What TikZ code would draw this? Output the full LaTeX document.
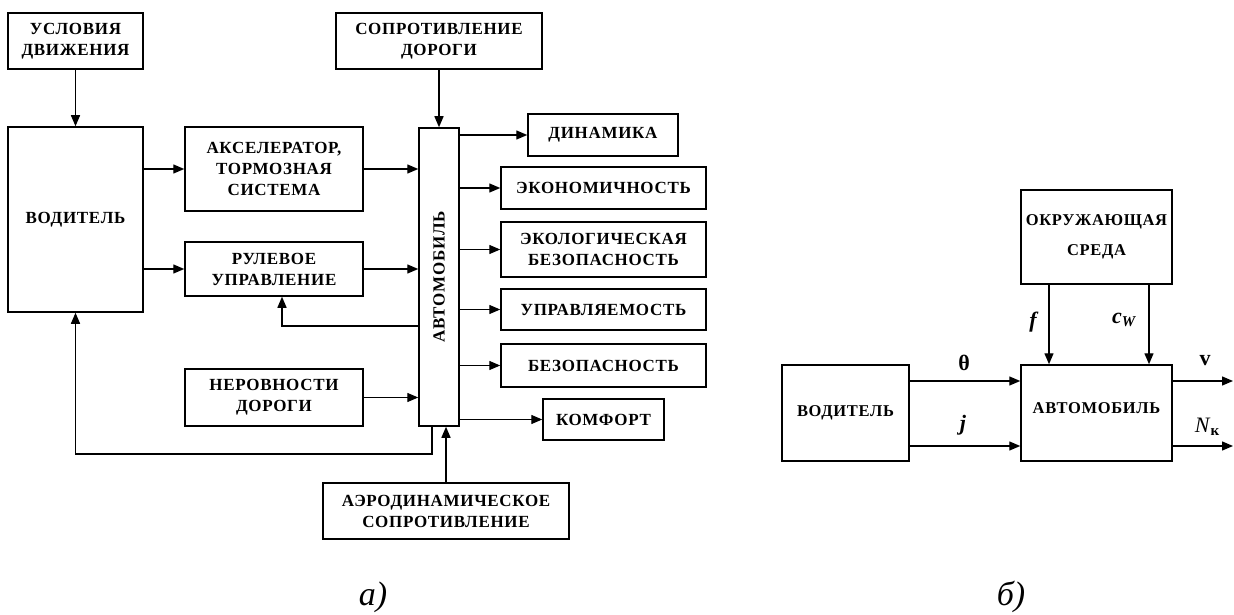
\documentclass[tikz,border=0pt]{standalone}
\usepackage{fontspec}
\setmainfont{Liberation Serif}
\newfontfamily\boxfont[LetterSpace=4]{Liberation Serif}
\usetikzlibrary{arrows.meta}
\begin{document}
\begin{tikzpicture}[x=1pt,y=-1pt,
  box/.style={draw, line width=1.5pt, inner sep=0pt, align=center, font=\boxfont\bfseries\fontsize{17}{21}\selectfont},
  rbox/.style={box, font=\boxfont\bfseries\fontsize{16.5}{30}\selectfont},
  vtxt/.style={rotate=90, inner sep=0pt, font=\boxfont\bfseries\fontsize{17}{21}\selectfont},
  arr/.style={line width=1.4pt, -{Triangle[length=11pt,width=9pt]}},
  lbl/.style={inner sep=0pt, font=\fontsize{22}{22}\selectfont},
  capt/.style={inner sep=0pt, anchor=base, font=\itshape\fontsize{34}{34}\selectfont}]
\useasboundingbox (0,0) rectangle (1234,615);
% ---------- left diagram ----------
\node[box, minimum width=135, minimum height=56] (usl) at (75.5,41) {УСЛОВИЯ\\ДВИЖЕНИЯ};
\node[box, minimum width=135, minimum height=185] (vod) at (75.5,219.5) {ВОДИТЕЛЬ};
\node[box, minimum width=178, minimum height=84] (acc) at (274,169) {АКСЕЛЕРАТОР,\\ТОРМОЗНАЯ\\СИСТЕМА};
\node[box, minimum width=178, minimum height=54] (rul) at (274,269) {РУЛЕВОЕ\\УПРАВЛЕНИЕ};
\node[box, minimum width=178, minimum height=57] (ner) at (274,397.5) {НЕРОВНОСТИ\\ДОРОГИ};
\node[box, minimum width=206, minimum height=56] (sop) at (439,41) {СОПРОТИВЛЕНИЕ\\ДОРОГИ};
\node[box, minimum width=40, minimum height=298] (avto) at (439,277) {};
\node[vtxt] (avtotxt) at (avto.center) {АВТОМОБИЛЬ};
\node[box, minimum width=150, minimum height=42] (din) at (603,135) {ДИНАМИКА};
\node[box, minimum width=205, minimum height=42] (eco) at (603.5,188) {ЭКОНОМИЧНОСТЬ};
\node[box, minimum width=205, minimum height=55] (ekol) at (603.5,249.5) {ЭКОЛОГИЧЕСКАЯ\\БЕЗОПАСНОСТЬ};
\node[box, minimum width=205, minimum height=41] (upr) at (603.5,309.5) {УПРАВЛЯЕМОСТЬ};
\node[box, minimum width=205, minimum height=43] (bez) at (603.5,365.5) {БЕЗОПАСНОСТЬ};
\node[box, minimum width=121, minimum height=41] (kom) at (603.5,419.5) {КОМФОРТ};
\node[box, minimum width=246, minimum height=56] (aero) at (446,511) {АЭРОДИНАМИЧЕСКОЕ\\СОПРОТИВЛЕНИЕ};
\coordinate (fbr) at (282,326);
\coordinate (fbv) at (432,454);
% connectors
\draw[arr] (usl) -- (vod);
\draw[arr] (vod.east |- acc.west) -- (acc.west);
\draw[arr] (vod.east |- rul.west) -- (rul.west);
\draw[arr] (acc.east) -- (acc.east -| avto.west);
\draw[arr] (rul.east) -- (rul.east -| avto.west);
\draw[arr] (ner.east) -- (ner.east -| avto.west);
\draw[arr] (sop.south) -- (sop.south |- avto.north);
\draw[arr] (aero.north) -- (aero.north |- avto.south);
\draw[arr] (fbr -| avto.west) -- (fbr) -- (fbr |- rul.south);
\draw[arr] (fbv |- avto.south) -- (fbv) -- (fbv -| vod.south) -- (vod.south);
\draw[arr] (din.west -| avto.east) -- (din.west);
\draw[arr] (eco.west -| avto.east) -- (eco.west);
\draw[arr] (ekol.west -| avto.east) -- (ekol.west);
\draw[arr] (upr.west -| avto.east) -- (upr.west);
\draw[arr] (bez.west -| avto.east) -- (bez.west);
\draw[arr] (kom.west -| avto.east) -- (kom.west);
\node[capt] (capa) at (373,605) {а)};
% ---------- right diagram ----------
\node[rbox, minimum width=151, minimum height=94] (okr) at (1096.5,237) {ОКРУЖАЮЩАЯ\\СРЕДА};
\node[rbox, minimum width=151, minimum height=96] (avto2) at (1096.5,413) {};
\node[inner sep=0pt, font=\boxfont\bfseries\fontsize{16.5}{20}\selectfont] (avto2txt) at ([yshift=5pt]avto2.center) {АВТОМОБИЛЬ};
\node[rbox, minimum width=127, minimum height=96] (vod2) at (845.5,413) {ВОДИТЕЛЬ};
\coordinate (t1) at (0,381);
\coordinate (t2) at (0,446);
\coordinate (ff) at (1049,0);
\coordinate (cw) at (1149,0);
\coordinate (ov) at (1233,381);
\coordinate (on) at (1233,446);
\draw[arr] (vod2.east |- t1) -- (avto2.west |- t1);
\draw[arr] (vod2.east |- t2) -- (avto2.west |- t2);
\draw[arr] (okr.south -| ff) -- (avto2.north -| ff);
\draw[arr] (okr.south -| cw) -- (avto2.north -| cw);
\draw[arr] (avto2.east |- ov) -- (ov);
\draw[arr] (avto2.east |- on) -- (on);
\node[lbl] (lth) at (964,363) {\textbf{θ}};
\node[lbl] (lj) at (963,425) {\textbf{\textit{j}}};
\node[lbl] (lf) at (1034,322) {\textbf{\textit{f}}};
\node[lbl] (lcw) at (1124,320) {\textbf{\textit{c}}\raisebox{-0.35ex}{\fontsize{15}{15}\selectfont\textbf{\textit{W}}}};
\node[lbl] (lv) at (1205,361) {\textbf{v}};
\node[lbl] (ln) at (1207,427) {\textit{N}\raisebox{-0.35ex}{\fontsize{15}{15}\selectfont\textbf{к}}};
\node[capt] (capb) at (1011,605) {б)};
\end{tikzpicture}
\end{document}
